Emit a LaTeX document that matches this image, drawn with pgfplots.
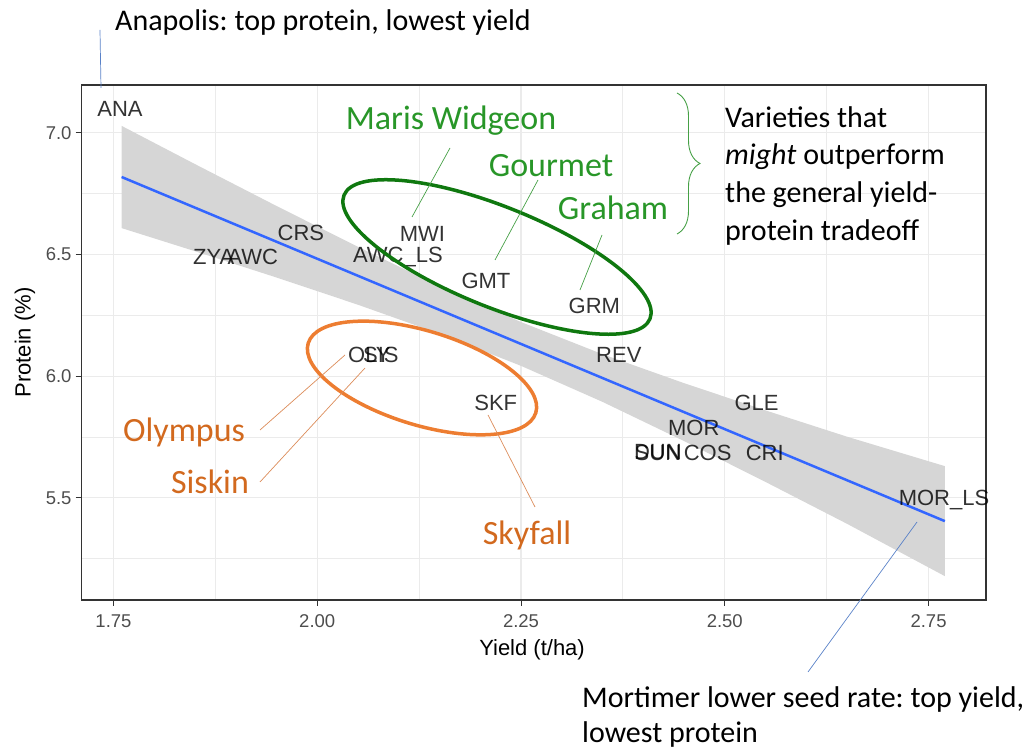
\documentclass[border=0pt]{standalone}
\usepackage{pgfplots}
\pgfplotsset{compat=1.18}
\usepackage{fontspec}
\setmainfont{Liberation Sans}
\newfontfamily\calfont{Carlito}
\usetikzlibrary{decorations.pathreplacing}
\frenchspacing
\definecolor{gridc}{RGB}{235,235,235}
\definecolor{frame}{RGB}{51,51,51}
\definecolor{tickc}{RGB}{77,77,77}
\definecolor{bandc}{RGB}{214,214,214}
\definecolor{blueline}{RGB}{51,102,255}
\definecolor{greenell}{RGB}{15,120,15}
\definecolor{greentxt}{RGB}{40,150,40}
\definecolor{greenln}{RGB}{70,160,70}
\definecolor{orangeell}{RGB}{237,125,49}
\definecolor{orangetxt}{RGB}{210,105,30}
\definecolor{orangeln}{RGB}{220,140,90}
\definecolor{annoblue}{RGB}{90,130,200}
\begin{document}
\begin{tikzpicture}[x=1pt,y=1pt]
\begin{axis}[
  at={(81.7pt,151pt)}, anchor=south west,
  scale only axis, width=904.3pt, height=515pt,
  xmin=1.711, xmax=2.8205, ymin=5.08, ymax=7.196,
  xtick={1.75,2,2.25,2.5,2.75}, xticklabels={1.75,2.00,2.25,2.50,2.75},
  ytick={5.5,6,6.5,7}, yticklabels={5.5,6.0,6.5,7.0},
  minor xtick={1.875,2.125,2.375,2.625}, minor ytick={5.25,5.75,6.25,6.75},
  grid=both,
  major grid style={color=gridc, line width=1.1pt},
  minor grid style={color=gridc, line width=0.8pt},
  tick align=outside, major tick length=6pt, minor tick length=0pt,
  xtick pos=bottom, ytick pos=left,
  tick style={color=frame, line width=1pt},
  axis line style={color=frame, line width=1.5pt},
  ticklabel style={font=\fontsize{18.5}{18.5}\selectfont, text=tickc, inner sep=0pt},
  xticklabel style={anchor=center, yshift=-15pt},
  yticklabel style={anchor=east, xshift=-4pt},
  xlabel={Yield (t/ha)}, ylabel={Protein (\%)},
  label style={font=\fontsize{22}{22}\selectfont, text=black},
  xlabel style={at={(axis description cs:0.498,-0.0971)}, anchor=center},
  ylabel style={at={(axis description cs:-0.0627,0.5)}, anchor=center},
]
% confidence band
\addplot[fill=bandc, draw=none] coordinates {
 (1.76,7.028) (1.85,6.871) (1.95,6.699) (2.05,6.531) (2.15,6.370) (2.25,6.222)
 (2.35,6.090) (2.45,5.971) (2.55,5.859) (2.65,5.751) (2.77,5.630)
 (2.77,5.178) (2.65,5.393) (2.55,5.565) (2.45,5.733) (2.35,5.894) (2.25,6.042)
 (2.15,6.174) (2.05,6.293) (1.95,6.405) (1.85,6.513) (1.76,6.608)};
% fitted line
\addplot[color=blueline, line width=2.5pt] coordinates {(1.76,6.818) (2.77,5.404)};
% variety labels
\addplot[only marks, mark=*, mark size=0pt, mark options={draw=none,fill=none},
  nodes near coords, point meta=explicit symbolic, nodes near coords align={center},
  every node near coord/.append style={anchor=center, inner sep=0pt,
    font=\fontsize{22}{22}\selectfont, text=black, text opacity=0.8}]
 coordinates {
 (1.758,7.097) [ANA]
 (1.873,6.488) [ZYA]
 (1.921,6.488) [AWC]
 (1.980,6.590) [CRS]
 (2.099,6.488) [AWC\_LS]
 (2.129,6.586) [MWI]
 (2.207,6.390) [GMT]
 (2.340,6.290) [GRM]
 (2.370,6.088) [REV]
 (2.064,6.088) [OLY]
 (2.078,6.088) [SIS]
 (2.219,5.890) [SKF]
 (2.539,5.890) [GLE]
 (2.462,5.787) [MOR]
 (2.418,5.686) [DUN]
 (2.418,5.686) [SUN]
 (2.479,5.686) [COS]
 (2.549,5.686) [CRI]
 (2.769,5.490) [MOR\_LS]
 };
\end{axis}
% ellipses
\draw[greenell, line width=3.5pt, shift={(497,494)}, rotate=-22] (0,0) ellipse [x radius=165pt, y radius=50pt];
\draw[orangeell, line width=3.5pt, shift={(422,373)}, rotate=-17] (0,0) ellipse [x radius=119pt, y radius=47pt];
% leader lines
\draw[greenln, line width=0.7pt] (450,603) -- (412,534);
\draw[greenln, line width=0.7pt] (538,571) -- (495,491);
\draw[greenln, line width=0.7pt] (602,516) -- (580,461);
\draw[orangeln, line width=0.7pt] (260,321) -- (345,396);
\draw[orangeln, line width=0.7pt] (260,269) -- (365,383);
\draw[orangeln, line width=0.7pt] (535,244) -- (488,336);
\draw[annoblue, line width=0.7pt] (100,721) -- (101,663);
\draw[annoblue, line width=0.7pt] (917,229) -- (808,79);
% brace
\draw[greenln, line width=0.9pt, decorate, decoration={brace, amplitude=23pt}] (677,658) -- (677,517);
% green and orange labels
\node[anchor=center, inner sep=0pt, text=greentxt, font=\calfont\fontsize{34}{34}\selectfont] at (451,630) {Maris Widgeon};
\node[anchor=center, inner sep=0pt, text=greentxt, font=\calfont\fontsize{34}{34}\selectfont] at (551,585) {Gourmet};
\node[anchor=center, inner sep=0pt, text=greentxt, font=\calfont\fontsize{34}{34}\selectfont] at (613,543) {Graham};
\node[anchor=center, inner sep=0pt, text=orangetxt, font=\calfont\fontsize{34}{34}\selectfont] at (184,319) {Olympus};
\node[anchor=center, inner sep=0pt, text=orangetxt, font=\calfont\fontsize{34}{34}\selectfont] at (210,269) {Siskin};
\node[anchor=center, inner sep=0pt, text=orangetxt, font=\calfont\fontsize{34}{34}\selectfont] at (527,216) {Skyfall};
% black annotations
\node[anchor=base west, inner sep=0pt, font=\calfont\fontsize{30}{30}\selectfont] at (115,720) {Anapolis: top protein, lowest yield};
\node[anchor=base west, inner sep=0pt, font=\calfont\fontsize{30}{30}\selectfont] at (725,623.5) {Varieties that};
\node[anchor=base west, inner sep=0pt, font=\calfont\fontsize{30}{30}\selectfont] at (725,586) {\textit{might} outperform};
\node[anchor=base west, inner sep=0pt, font=\calfont\fontsize{30}{30}\selectfont] at (725,548) {the general yield-};
\node[anchor=base west, inner sep=0pt, font=\calfont\fontsize{30}{30}\selectfont] at (725,510) {protein tradeoff};
\node[anchor=base west, inner sep=0pt, font=\calfont\fontsize{30}{30}\selectfont] at (582,43) {Mortimer lower seed rate: top yield,};
\node[anchor=base west, inner sep=0pt, font=\calfont\fontsize{30}{30}\selectfont] at (582,8) {lowest protein};
\pgfresetboundingbox
\path[use as bounding box] (0,0) rectangle (1034,751);
\end{tikzpicture}
\end{document}
